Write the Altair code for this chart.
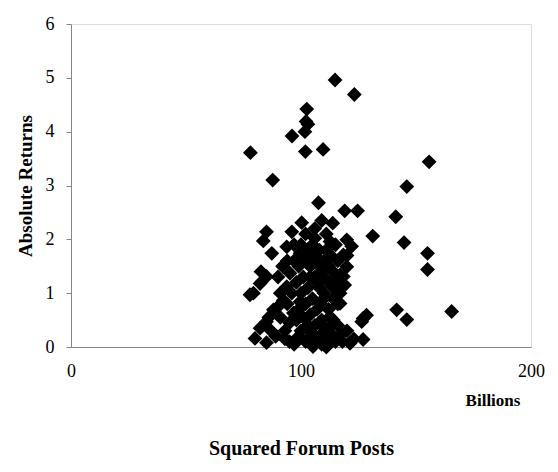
import altair as alt
import pandas as pd

# Squared forum posts (billions)
forum_posts_sq = [
    114.8, 123.2, 102.5, 102.2, 103.0, 101.7, 96.1, 101.9, 109.6, 78.0,
    87.7, 155.7, 146.0, 107.6, 119.0, 124.6, 141.2, 131.2, 144.8, 155.0,
    155.0, 165.5, 141.6, 146.0, 128.5, 126.4, 127.0, 100.3, 109.0, 113.8,
    85.0, 96.0, 83.6, 122.0, 87.3, 82.6, 77.8, 80.0, 85.0, 105.2,
    106.0, 112.6, 119.9, 93.8, 99.6, 118.4, 119.9, 79.3, 82.2, 85.0,
    93.8, 92.3, 88.0, 85.0, 82.2, 96.7, 102.5, 117.0, 121.3, 127.0,
    117.0, 118.4, 117.0, 108.3, 112.6, 99.6, 111.0, 98.8, 95.2,
    97, 99, 101, 103, 105, 107, 109, 111, 113, 98,
    100, 102, 104, 106, 108, 110, 112, 114, 116, 108,
    110, 104, 106, 108, 110, 112, 114, 116, 103, 105,
    107, 111, 113, 115, 109, 107, 105, 101, 97, 94,
    92, 90, 91, 94, 96, 98, 100, 102, 104, 106,
    108, 110, 112, 114, 115, 93, 95, 91, 89, 97,
    100, 102, 104, 106, 108, 110, 112, 114, 116, 103,
    105, 107, 109, 111, 113, 116, 118, 120, 123, 99,
    101, 95, 93, 87, 86, 90, 111, 106, 102, 115,
    117, 119, 120,
]
# Absolute returns
abs_returns = [
    4.96, 4.69, 4.42, 4.19, 4.14, 4.00, 3.92, 3.63, 3.67, 3.61,
    3.10, 3.44, 2.98, 2.68, 2.53, 2.53, 2.42, 2.06, 1.94, 1.74,
    1.44, 0.66, 0.69, 0.51, 0.59, 0.47, 0.14, 2.31, 2.35, 2.30,
    2.14, 2.14, 1.97, 1.87, 1.74, 1.40, 0.97, 0.16, 0.08, 0.01,
    2.02, 1.96, 1.99, 1.86, 1.74, 1.71, 1.49, 1.00, 1.18, 1.31,
    1.12, 0.87, 0.69, 0.47, 0.35, 0.63, 0.38, 0.22, 0.07, 0.53,
    0.81, 1.31, 1.34, 0.81, 0.56, 0.84, 0.32, 0.19, 1.37,
    1.6, 1.5, 1.3, 1.1, 0.9, 0.7, 0.5, 0.3, 0.1, 0.5,
    0.3, 0.1, 0.6, 0.4, 0.2, 1.0, 1.2, 1.4, 1.6, 1.8,
    1.6, 1.5, 1.3, 1.1, 0.9, 0.7, 0.9, 1.1, 1.8, 1.9,
    1.6, 1.8, 1.7, 1.9, 1.4, 1.2, 1.6, 1.7, 1.9, 1.6,
    1.5, 1.3, 1.0, 0.8, 1.0, 1.2, 1.0, 0.8, 0.2, 0.05,
    0.45, 0.15, 0.35, 0.5, 0.1, 0.3, 0.1, 0.55, 0.2, 0.05,
    1.9, 1.6, 1.3, 1.7, 1.5, 1.3, 1.5, 1.1, 0.8, 0.4,
    0.25, 0.1, 0.05, 0.0, 0.25, 0.4, 0.1, 0.3, 0.15, 0.7,
    0.55, 0.45, 0.15, 0.3, 0.55, 0.75, 2.1, 2.2, 2.1, 1.25,
    1.0, 1.15, 1.7,
]

x_ticks = [0, 100, 200]
y_ticks = [0, 1, 2, 3, 4, 5, 6]

df = pd.DataFrame({"posts": forum_posts_sq, "ret": abs_returns})

FONT = "Liberation Serif"
AXIS_COLOR = "#868686"

points = alt.Chart(df).mark_point(
    shape="diamond", filled=True, size=220, color="black", opacity=1
).encode(
    x=alt.X(
        "posts:Q",
        scale=alt.Scale(domain=[0, 200], nice=False, zero=True),
        axis=alt.Axis(
            values=x_ticks, title="Squared Forum Posts", grid=False,
            ticks=False, tickSize=0, labelPadding=15, labelFontSize=18,
            labelFont=FONT, labelColor="black", domainColor=AXIS_COLOR,
            titleFont=FONT, titleFontSize=20, titleFontWeight="bold",
            titleColor="black", titleY=101, titleBaseline="middle",
            titleX=230, labelFlush=False,
        ),
    ),
    y=alt.Y(
        "ret:Q",
        scale=alt.Scale(domain=[0, 6], nice=False),
        axis=alt.Axis(
            values=y_ticks, title="Absolute Returns", grid=False,
            tickSize=5, tickColor=AXIS_COLOR, domainColor=AXIS_COLOR,
            labelPadding=12, labelFontSize=18, labelFont=FONT,
            labelColor="black", titleFont=FONT, titleFontSize=19,
            titleFontWeight="bold", titleColor="black", titleAngle=-90,
            titleX=-46, titleY=161.5, titleBaseline="middle",
            titleAlign="center",
        ),
    ),
)

billions = alt.Chart(pd.DataFrame({"t": ["Billions"]})).mark_text(
    font=FONT, fontSize=17, fontWeight="bold", color="black",
    align="center", baseline="middle",
).encode(text="t:N", x=alt.value(422), y=alt.value(377))

chart = alt.layer(points, billions).properties(
    width=460, height=323,
    autosize=alt.AutoSizeParams(type="none"),
    padding={"left": 71, "top": 24, "right": 27, "bottom": 125},
).configure_view(stroke=None).configure(background="white")

chart.save("out.html", embed_options={"renderer": "svg", "actions": False})
